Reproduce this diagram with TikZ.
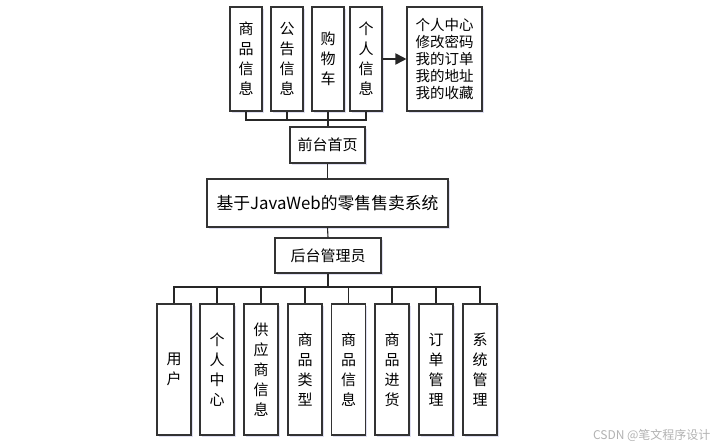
\documentclass[tikz,border=0pt]{standalone}
\usepackage{fontspec}
\setmainfont{Noto Sans CJK SC}
\usetikzlibrary{arrows.meta,shadows}
\begin{document}
\begin{tikzpicture}[x=1pt,y=-1pt,
  box/.style={draw=black!80,line width=1.1pt,fill=white,inner sep=0pt,
    drop shadow={opacity=0.18,shadow xshift=1.5pt,shadow yshift=-1.5pt,fill=blue!40!gray}},
  vbox/.style={box,minimum width=32pt,minimum height=104pt,align=center,
    font=\fontsize{15}{20}\selectfont},
  bbox/.style={box,minimum width=34pt,minimum height=131pt,align=center,
    font=\fontsize{15}{20}\selectfont},
  hbox/.style={box,font=\fontsize{15}{17}\selectfont},
  link/.style={draw=black!85,line width=1.1pt}]
\useasboundingbox (0,0) rectangle (725,447);
% top row
\node[vbox] (t1) at (246,59) {商\\品\\信\\息};
\node[vbox] (t2) at (287,59) {公\\告\\信\\息};
\node[vbox] (t3) at (328,59) {购\\物\\车};
\node[vbox] (t4) at (366,59) {个\\人\\信\\息};
\node[box,minimum width=75pt,minimum height=104pt,align=left,
  font=\fontsize{14.5}{17}\selectfont] (info) at (444.5,59)
  {个人中心\\修改密码\\我的订单\\我的地址\\我的收藏};
\draw[link,line width=1.8pt,-{Triangle[length=11pt,width=11pt]}] (t4.east) -- (info.west);
% centre column
\node[hbox,minimum width=75pt,minimum height=36pt] (home) at (327.5,145) {前台首页};
\node[box,minimum width=241pt,minimum height=48pt,font=\fontsize{16.8}{18}\selectfont] (sys) at (327.5,203) {基于JavaWeb的零售售卖系统};
\node[hbox,minimum width=106pt,minimum height=35pt] (admin) at (328,255.5) {后台管理员};
\coordinate (tbus) at (327.5,120);
\coordinate (bbus) at (328,287);
\draw[link] (t1.south) -- (t1.south |- tbus) -- (t4.south |- tbus) -- (t4.south);
\draw[link] (t2.south) -- (t2.south |- tbus);
\draw[link] (t3.south) -- (t3.south |- home.north);
\draw[link] (home.south) -- (sys.north);
\draw[link] (sys.south) -- (admin.north);
\draw[link,line width=1.6pt] (admin.south) -- (bbus);
% bottom row
\node[bbox] (b1) at (174,369.5) {用\\户};
\node[bbox] (b2) at (217,369.5) {个\\人\\中\\心};
\node[bbox] (b3) at (261,369.5) {供\\应\\商\\信\\息};
\node[bbox] (b4) at (305,369.5) {商\\品\\类\\型};
\node[bbox] (b5) at (348.5,369.5) {商\\品\\信\\息};
\node[bbox] (b6) at (392,369.5) {商\\品\\进\\货};
\node[bbox] (b7) at (436,369.5) {订\\单\\管\\理};
\node[bbox] (b8) at (480,369.5) {系\\统\\管\\理};
\draw[link] (b1.north) -- (b1.north |- bbus) -- (b8.north |- bbus) -- (b8.north);
\foreach \i in {2,...,7} {\draw[link] (b\i.north) -- (b\i.north |- bbus);}
% watermark
\node[text=black!30,font=\fontsize{12}{13}\selectfont,anchor=east] (wm) at (714,435) {CSDN @笔文程序设计};
\end{tikzpicture}
\end{document}
